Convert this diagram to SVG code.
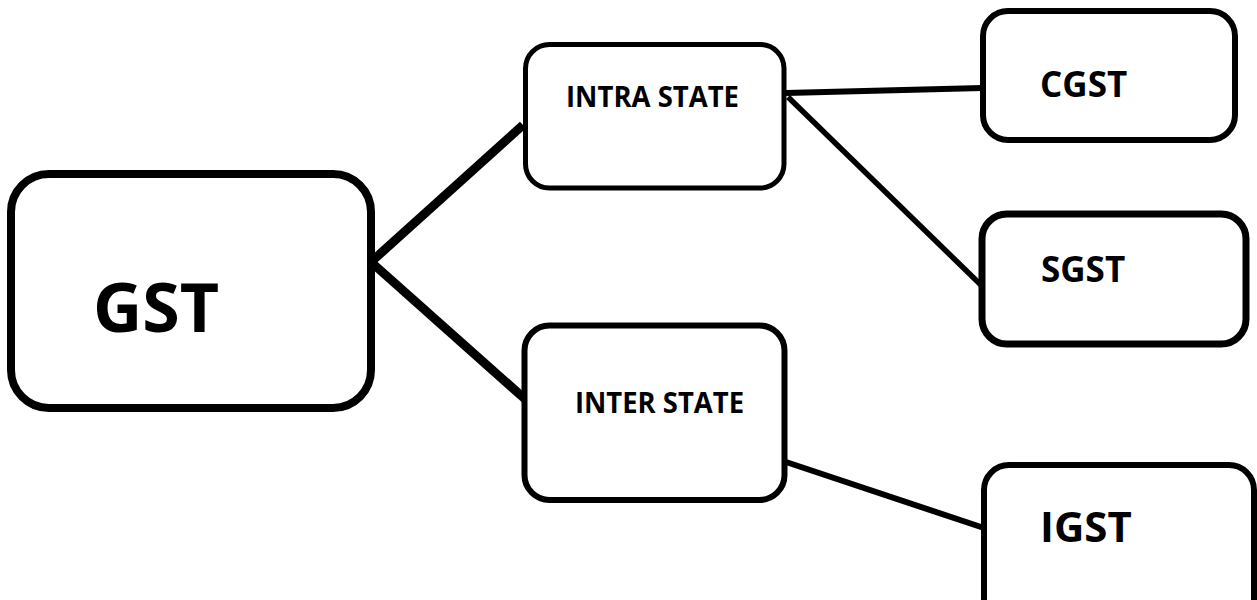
<svg xmlns="http://www.w3.org/2000/svg" width="1257" height="600" viewBox="0 0 1257 600">
<style>
.box{fill:#fff;stroke:#000}
.lbl{font-family:"Open Sans","Liberation Sans",sans-serif;font-weight:700;fill:#000}
.con{stroke:#000;fill:none}
</style>
<rect width="1257" height="600" fill="#fff"/>
<g id="connectors">
<line class="con" x1="371" y1="262" x2="523" y2="125" stroke-width="9"/>
<line class="con" x1="371" y1="262" x2="525" y2="399" stroke-width="9"/>
<line class="con" x1="786" y1="93" x2="982" y2="88" stroke-width="6"/>
<line class="con" x1="788" y1="97" x2="982" y2="286" stroke-width="5.5"/>
<line class="con" x1="786" y1="462" x2="984" y2="528" stroke-width="6"/>
</g>
<g id="gst">
<rect class="box" x="11" y="174" width="360" height="234" rx="38" stroke-width="8"/>
<text class="lbl" x="93" y="332" font-size="68">GST</text>
</g>
<g id="intra">
<rect class="box" x="525.5" y="44.5" width="258.5" height="143.5" rx="24" stroke-width="5"/>
<text class="lbl" x="566" y="107" font-size="28" textLength="173" lengthAdjust="spacingAndGlyphs">INTRA STATE</text>
</g>
<g id="inter">
<rect class="box" x="524.5" y="325.5" width="260" height="174.5" rx="25" stroke-width="6"/>
<text class="lbl" x="575" y="413" font-size="28" textLength="169" lengthAdjust="spacingAndGlyphs">INTER STATE</text>
</g>
<g id="cgst">
<rect class="box" x="983" y="11" width="252" height="129" rx="25" stroke-width="6"/>
<text class="lbl" x="1040" y="97" font-size="35">CGST</text>
</g>
<g id="sgst">
<rect class="box" x="982" y="214" width="264" height="130" rx="25" stroke-width="7"/>
<text class="lbl" x="1041" y="282" font-size="35">SGST</text>
</g>
<g id="igst">
<rect class="box" x="984" y="465" width="270" height="170" rx="25" stroke-width="6"/>
<text class="lbl" x="1040" y="542" font-size="42">IGST</text>
</g>
</svg>
